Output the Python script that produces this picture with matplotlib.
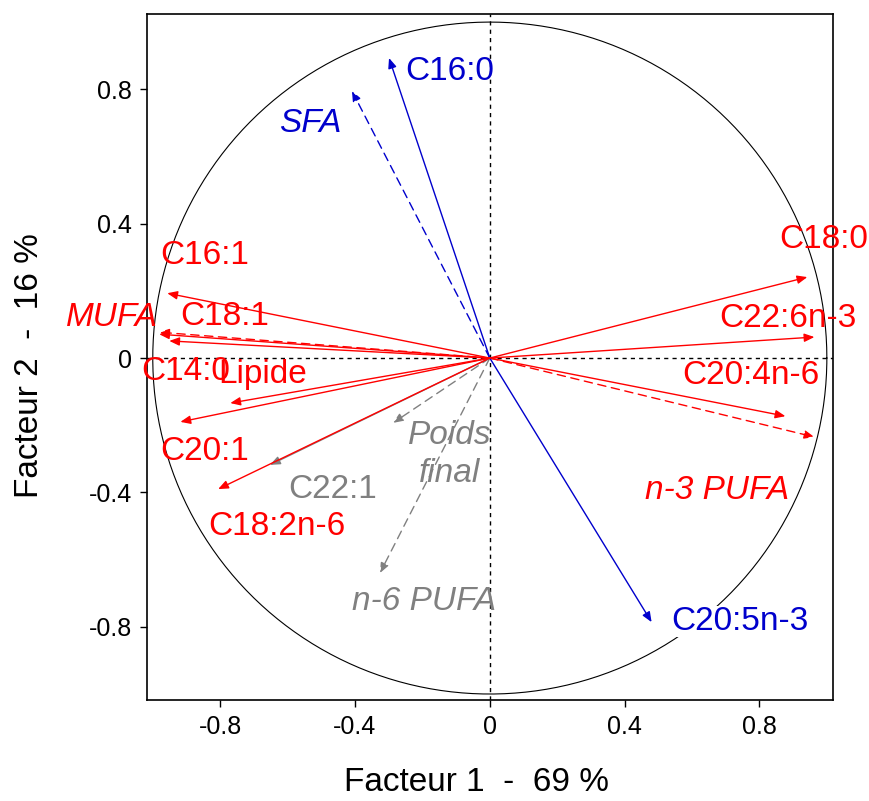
import numpy as np
import matplotlib
matplotlib.use('Agg')
import matplotlib.pyplot as plt

plt.rcParams['font.family'] = ['Liberation Sans', 'DejaVu Sans']

# variables: name, arrow tip (factor 1, factor 2), group
names = ['C16:0', 'SFA', 'C18:0', 'C22:6n-3', 'C20:4n-6', 'n-3 PUFA', 'C20:5n-3',
         'C16:1', 'MUFA', 'C18:1', 'C14:0', 'Lipide', 'C20:1', 'C18:2n-6',
         'C22:1', 'Poids final', 'n-6 PUFA']
f1 = [-0.299, -0.409, 0.942, 0.963, 0.877, 0.963, 0.480,
      -0.957, -0.981, -0.981, -0.951, -0.770, -0.918, -0.806,
      -0.652, -0.287, -0.326]
f2 = [0.893, 0.795, 0.241, 0.0625, -0.173, -0.235, -0.786,
      0.193, 0.077, 0.071, 0.051, -0.134, -0.190, -0.390,
      -0.318, -0.193, -0.640]
kind = ['blue', 'blue', 'red', 'red', 'red', 'red', 'blue',
        'red', 'red', 'red', 'red', 'red', 'red', 'red',
        'gray', 'gray', 'gray']
dashed = ['SFA', 'n-3 PUFA', 'MUFA', 'Poids final', 'n-6 PUFA']
italic = ['SFA', 'n-3 PUFA', 'MUFA', 'Poids final', 'n-6 PUFA']

# label anchors (left edge / baseline), MUFA right-aligned
lab_x = [-0.252, -0.625, 0.859, 0.681, 0.572, 0.459, 0.539,
         -0.978, -0.984, -0.919, -1.034, -0.806, -0.978, -0.836,
         -0.599, -0.119, -0.409]
lab_y = [0.827, 0.673, 0.327, 0.092, -0.077, -0.42, -0.81,
         0.28, 0.095, 0.098, -0.065, -0.074, -0.304, -0.527,
         -0.417, -0.256, -0.75]

colors = {'red': '#ff0000', 'blue': '#0000cc', 'gray': '#808080'}

fig = plt.figure(figsize=(8.7, 8.01), dpi=100)
ax = fig.add_axes([0.169, 0.126, 0.788, 0.8565])

# correlation circle and axes through origin
t = np.linspace(0, 2 * np.pi, 400)
ax.plot(np.cos(t), np.sin(t), color='black', lw=0.8, zorder=1)
ax.axhline(0, color='black', lw=1, linestyle=(0, (3, 3)), zorder=1)
ax.axvline(0, color='black', lw=1, linestyle=(0, (3, 3)), zorder=1)

for i, n in enumerate(names):
    c = colors[kind[i]]
    ls = (0, (6, 4)) if n in dashed else '-'
    z = 1.5 if kind[i] == 'gray' else 2
    ax.annotate('', xy=(f1[i], f2[i]), xytext=(0, 0),
                arrowprops=dict(arrowstyle='-|>,head_length=0.6,head_width=0.25',
                                color=c, lw=1.0, linestyle=ls,
                                shrinkA=0, shrinkB=0, mutation_scale=10),
                zorder=z)
    style = 'italic' if n in italic else 'normal'
    if n == 'Poids final':
        ax.text(lab_x[i], lab_y[i], 'Poids', color=c, fontsize=24, style=style,
                ha='center', va='baseline', zorder=3)
        ax.text(lab_x[i], lab_y[i] - 0.113, 'final', color=c, fontsize=24, style=style,
                ha='center', va='baseline', zorder=3)
        continue
    ha = 'right' if n == 'MUFA' else 'left'
    txt = ax.text(lab_x[i], lab_y[i], n, color=c, fontsize=24, style=style,
                  ha=ha, va='baseline', zorder=3, clip_on=False)
    if n == 'C20:5n-3':
        txt.set_bbox(dict(facecolor='white', edgecolor='none', pad=0))

ax.set_xlim(-1.017, 1.017)
ax.set_ylim(-1.018, 1.024)
ticks = [-0.8, -0.4, 0, 0.4, 0.8]
tick_labels = ['-0.8', '-0.4', '0', '0.4', '0.8']
ax.set_xticks(ticks)
ax.set_xticklabels(tick_labels)
ax.set_yticks(ticks)
ax.set_yticklabels(tick_labels)
ax.tick_params(labelsize=18, length=5, width=1, pad=6)
for s in ax.spines.values():
    s.set_linewidth(1.2)

ax.set_xlabel('Facteur 1  -  69 %', fontsize=24)
ax.set_ylabel('Facteur 2  -  16 %', fontsize=24)
ax.xaxis.set_label_coords(0.48, -0.098)
ax.yaxis.set_label_coords(-0.149, 0.488)

fig.savefig('out.png', dpi=100)
